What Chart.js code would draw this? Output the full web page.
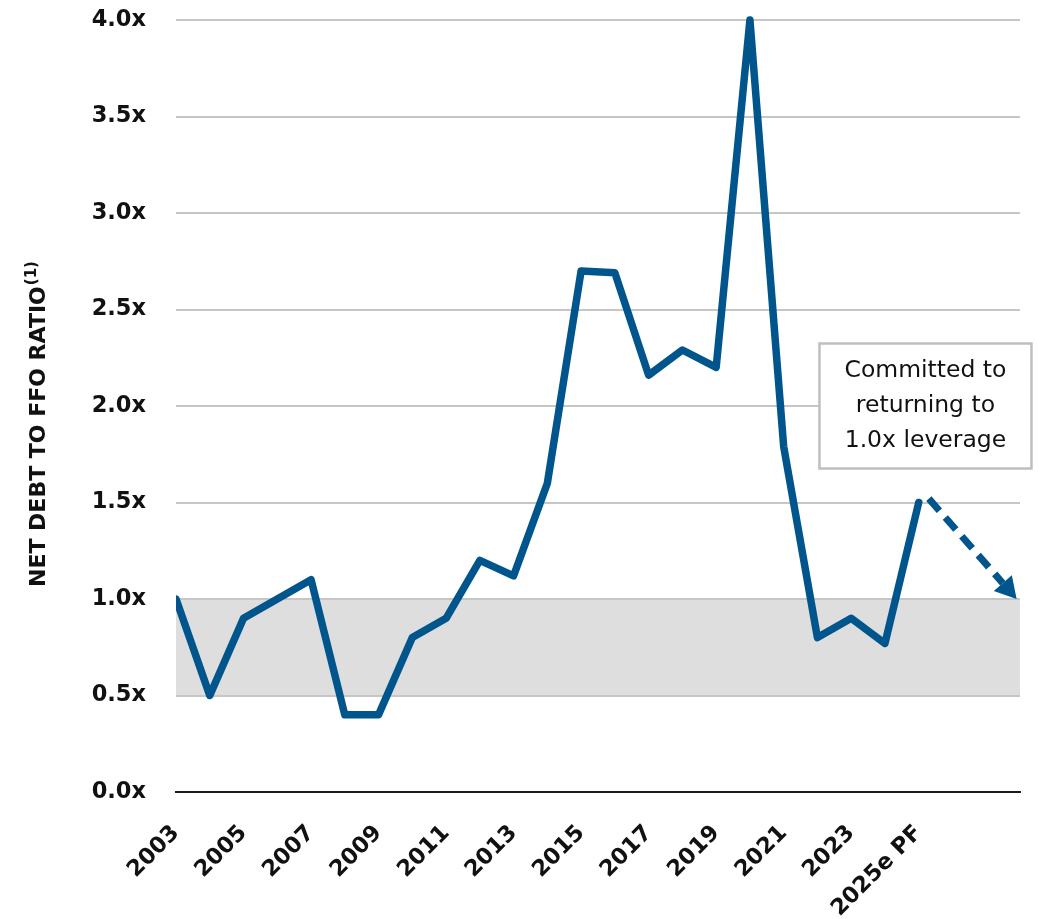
<!DOCTYPE html>
<html>
<head>
<meta charset="utf-8">
<script src="https://cdn.jsdelivr.net/npm/chart.js@4.4.1/dist/chart.umd.min.js"></script>
<style>
  html, body { margin: 0; padding: 0; background: #fff; }
  #wrap { width: 1038px; height: 919px; }
</style>
</head>
<body>
<div id="wrap"><canvas id="leverageChart" width="1038" height="919"></canvas></div>
<script>
// Categorías (las tres últimas quedan vacías para dejar sitio a la flecha)
const years = ['2003', '2004', '2005', '2006', '2007', '2008', '2009', '2010', '2011', '2012',
  '2013', '2014', '2015', '2016', '2017', '2018', '2019', '2020', '2021', '2022',
  '2023', '2024', '2025e PF', '', '', ''];
// Deuda neta / FFO por año
const ratios = [1.0, 0.5, 0.9, 1.0, 1.1, 0.4, 0.4, 0.8, 0.9, 1.2,
  1.12, 1.6, 2.7, 2.69, 2.16, 2.29, 2.2, 4.0, 1.79, 0.8,
  0.9, 0.77, 1.5];
// Ticks del eje y
const yTicks = [0, 0.5, 1.0, 1.5, 2.0, 2.5, 3.0, 3.5, 4.0];
// Banda objetivo (sombreada)
const targetBand = [0.5, 1.0];
// Flecha punteada: [índice de categoría, valor]
const arrowFrom = [22.3, 1.52];
const arrowTo = [24.9, 1.0];
// Nota
const noteLines = ['Committed to', 'returning to', '1.0x leverage'];
const noteAnchor = [22.2, 2.0];
// Título del eje y
const axisTitle = 'NET DEBT TO FFO RATIO';
const axisTitleSup = '(1)';

const blue = '#00558C';
const textColor = '#111111';

// Banda gris detrás de la cuadrícula
const bandPlugin = {
  id: 'band',
  beforeDraw(chart) {
    const { ctx, chartArea, scales: { y } } = chart;
    const top = y.getPixelForValue(targetBand[1]);
    const bottom = y.getPixelForValue(targetBand[0]);
    ctx.save();
    ctx.fillStyle = '#dedede';
    ctx.fillRect(chartArea.left, top, chartArea.right - chartArea.left, bottom - top);
    ctx.restore();
  }
};

// Flecha, nota y título con superíndice
const extrasPlugin = {
  id: 'extras',
  afterDatasetsDraw(chart) {
    const { ctx, chartArea, scales: { x, y } } = chart;

    // Flecha punteada
    const x0 = x.getPixelForValue(arrowFrom[0]), y0 = y.getPixelForValue(arrowFrom[1]);
    const x1 = x.getPixelForValue(arrowTo[0]), y1 = y.getPixelForValue(arrowTo[1]);
    const len = Math.hypot(x1 - x0, y1 - y0);
    const ux = (x1 - x0) / len, uy = (y1 - y0) / len;
    const head = 21, halfW = 12;
    ctx.save();
    ctx.strokeStyle = blue;
    ctx.fillStyle = blue;
    ctx.lineWidth = 7;
    ctx.setLineDash([16, 9]);
    ctx.beginPath();
    ctx.moveTo(x0, y0);
    ctx.lineTo(x1 - ux * head, y1 - uy * head);
    ctx.stroke();
    ctx.setLineDash([]);
    ctx.beginPath();
    ctx.moveTo(x1, y1);
    ctx.lineTo(x1 - ux * head - uy * halfW, y1 - uy * head + ux * halfW);
    ctx.lineTo(x1 - ux * head + uy * halfW, y1 - uy * head - ux * halfW);
    ctx.closePath();
    ctx.fill();
    ctx.restore();

    // Caja de la nota
    const cx = x.getPixelForValue(noteAnchor[0]);
    const cy = y.getPixelForValue(noteAnchor[1]);
    const w = 212, h = 125;
    ctx.save();
    ctx.fillStyle = '#ffffff';
    ctx.fillRect(cx - w / 2, cy - h / 2, w, h);
    ctx.strokeStyle = '#bfbfbf';
    ctx.lineWidth = 2.5;
    ctx.strokeRect(cx - w / 2, cy - h / 2, w, h);
    ctx.fillStyle = textColor;
    ctx.font = '23.5px "DejaVu Sans"';
    ctx.textAlign = 'center';
    ctx.textBaseline = 'middle';
    noteLines.forEach((line, i) => {
      ctx.fillText(line, cx, cy + (i - 1) * 35);
    });
    ctx.restore();

    // Título vertical del eje y
    ctx.save();
    ctx.translate(39, chartArea.bottom - 205);
    ctx.rotate(-Math.PI / 2);
    ctx.fillStyle = textColor;
    ctx.font = 'bold 22px "DejaVu Sans"';
    ctx.textAlign = 'left';
    ctx.textBaseline = 'middle';
    ctx.fillText(axisTitle, 0, 0);
    const mainW = ctx.measureText(axisTitle).width;
    ctx.font = 'bold 15px "DejaVu Sans"';
    ctx.fillText(axisTitleSup, mainW + 1, -7);
    ctx.restore();
  }
};

new Chart(document.getElementById('leverageChart'), {
  type: 'line',
  data: {
    labels: years,
    datasets: [{
      data: ratios,
      borderColor: blue,
      borderWidth: 7.5,
      borderJoinStyle: 'round',
      borderCapStyle: 'round',
      pointRadius: 0,
      tension: 0,
      clip: { left: 0, top: 10, right: 10, bottom: 10 }
    }]
  },
  options: {
    responsive: false,
    animation: false,
    layout: { padding: { top: 20, right: 18, left: 0, bottom: 0 } },
    plugins: { legend: { display: false }, tooltip: { enabled: false } },
    scales: {
      x: {
        offset: false,
        grid: { display: false },
        border: { color: '#1a1a1a', width: 2 },
        ticks: {
          autoSkip: false,
          minRotation: 45,
          maxRotation: 45,
          padding: 20,
          color: textColor,
          font: { family: 'DejaVu Sans', weight: 'bold', size: 22.5 },
          callback: (v, i) => (i % 2 === 0 && i <= 22 ? years[i] : '')
        },
        afterFit: (axis) => {
          axis.height = 127;
          axis.paddingLeft = 0;
          axis.paddingRight = 0;
        }
      },
      y: {
        min: 0,
        max: 4,
        afterBuildTicks: (axis) => { axis.ticks = yTicks.map(v => ({ value: v })); },
        grid: { color: '#c6c6c6', lineWidth: 2, drawTicks: false },
        border: { display: false },
        ticks: {
          padding: 30,
          color: textColor,
          font: { family: 'DejaVu Sans', weight: 'bold', size: 22.5 },
          callback: (v) => v.toFixed(1) + 'x'
        },
        afterFit: (axis) => {
          axis.width = 176;
          axis.paddingTop = 0;
          axis.paddingBottom = 0;
        }
      }
    }
  },
  plugins: [bandPlugin, extrasPlugin]
});
</script>
</body>
</html>
